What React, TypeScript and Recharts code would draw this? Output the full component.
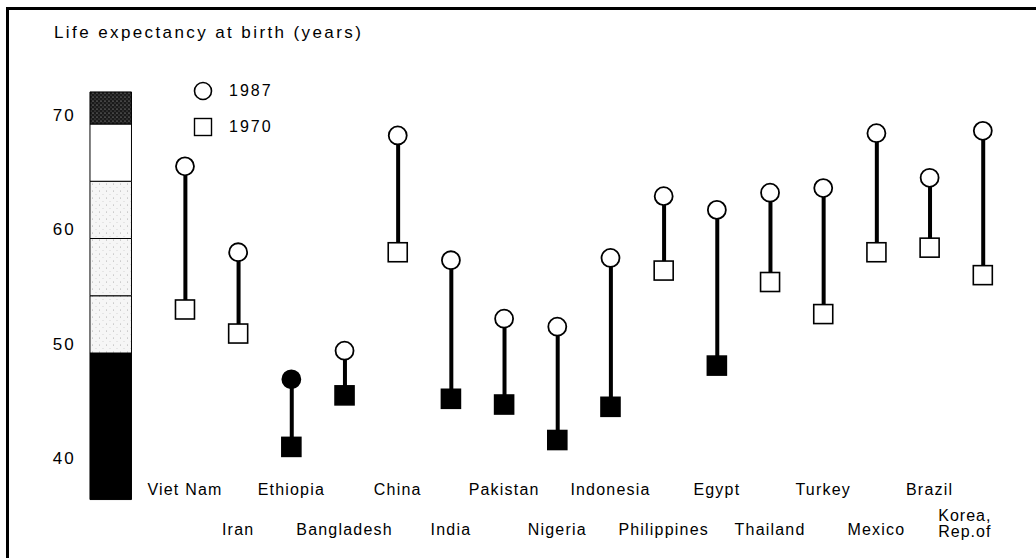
import { ComposedChart, Bar, Scatter, XAxis, YAxis, ReferenceArea, Legend } from 'recharts'

const W = 1036
const H = 558
const FONT = '"Liberation Sans", Arial, sans-serif'

const countries = [
  'Viet Nam', 'Iran', 'Ethiopia', 'Bangladesh', 'China', 'India', 'Pakistan', 'Nigeria',
  'Indonesia', 'Philippines', 'Egypt', 'Thailand', 'Turkey', 'Mexico', 'Brazil', 'Korea, Rep.of',
]
const life1987 = [66.3, 58.8, 47.7, 50.2, 69.0, 58.1, 53.0, 52.3, 58.3, 63.7, 62.5, 64.0, 64.4, 69.2, 65.3, 69.4]
const life1970 = [53.8, 51.7, 41.8, 46.3, 58.8, 46.0, 45.5, 42.4, 45.3, 57.2, 48.9, 56.2, 53.4, 58.8, 59.2, 56.8]
const yTicks = [40, 50, 60, 70]
const legendOrder = ['1987', '1970']
// shaded scale bar on the left: band edges in years
const scaleBands = [37.2, 50, 55, 60, 65, 70, 72.8]
const bandFills = ['#000', 'url(#stipLight)', 'url(#stipLight)', 'url(#stipLight)', '#fff', 'url(#stipDark)']

const data = countries.map((name, i) => ({
  idx: i,
  name,
  v1970: life1970[i],
  v1987: life1987[i],
  stem: [life1970[i], life1987[i]],
}))

const markFill = (v: number) => (v < 50 ? '#000' : '#fff')

function CircleMark(props: any) {
  const { cx, cy, payload } = props
  return <circle cx={cx} cy={cy} r={9} fill={markFill(payload.v1987)} stroke="#000" strokeWidth={1.8} />
}

function SquareMark(props: any) {
  const { cx, cy, payload } = props
  return <rect x={cx - 9.5} y={cy - 9.5} width={19} height={19} fill={markFill(payload.v1970)} stroke="#000" strokeWidth={1.6} />
}

function CountryTick(props: any) {
  const { x, y, payload } = props
  const i = payload.value
  const name = countries[i]
  const row = i % 2
  if (name.includes(', ')) {
    const [a, b] = name.split(', ')
    return (
      <text x={x - 18} y={y} textAnchor="middle" fontSize={16} letterSpacing={1} fill="#000" fontFamily={FONT}>
        <tspan x={x - 18} dy={8}>{a + ','}</tspan>
        <tspan x={x - 18} dy={16}>{b}</tspan>
      </text>
    )
  }
  return (
    <text x={x} y={y + (row === 0 ? -18 : 22)} textAnchor="middle" fontSize={16} letterSpacing={1.2} fill="#000" fontFamily={FONT}>
      {name}
    </text>
  )
}

function ValueTick(props: any) {
  const { x, y, payload } = props
  return (
    <text x={x} y={y - 9.5} dy="0.36em" textAnchor="end" fontSize={17} letterSpacing={2} fill="#000" fontFamily={FONT}>
      {payload.value}
    </text>
  )
}

function LegendBox(props: any) {
  const items = (props.payload || []).filter((it: any) => legendOrder.includes(it.value))
  items.sort((a: any, b: any) => legendOrder.indexOf(a.value) - legendOrder.indexOf(b.value))
  return (
    <div style={{ fontFamily: FONT, fontSize: 16, letterSpacing: 2 }}>
      {items.map((it: any) => (
        <div key={it.value} style={{ display: 'flex', alignItems: 'center', height: 36 }}>
          <svg width={22} height={22} style={{ marginRight: 15 }}>
            {it.value === '1987'
              ? <circle cx={11} cy={11} r={8.5} fill="#fff" stroke="#000" strokeWidth={1.6} />
              : <rect x={2.5} y={2.5} width={17} height={17} fill="#fff" stroke="#000" strokeWidth={1.4} />}
          </svg>
          <span>{it.value}</span>
        </div>
      ))}
    </div>
  )
}

export default function App() {
  return (
    <div style={{ position: 'relative', width: W, height: H, overflow: 'hidden', background: '#fff', fontFamily: FONT }}>
      <style>{'body{margin:0}'}</style>
      <div style={{ position: 'absolute', left: 6, top: 7, width: W, height: H, borderLeft: '3px solid #000', borderTop: '3px solid #000' }} />
      <div style={{ position: 'absolute', left: 54, top: 23, fontSize: 17, letterSpacing: 2.4, whiteSpace: 'nowrap' }}>
        Life expectancy at birth (years)
      </div>
      <ComposedChart width={W} height={H} data={data} margin={{ top: 78.2, right: 0, bottom: 0, left: 0 }}>
        <defs>
          <pattern id="stipLight" width={7} height={7} patternUnits="userSpaceOnUse">
            <rect width={7} height={7} fill="#f6f6f6" />
            <circle cx={1.5} cy={2} r={0.5} fill="#999" />
            <circle cx={5} cy={5.5} r={0.4} fill="#aaa" />
          </pattern>
          <pattern id="stipDark" width={4} height={4} patternUnits="userSpaceOnUse">
            <rect width={4} height={4} fill="#1a1a1a" />
            <circle cx={1} cy={1} r={0.6} fill="#bbb" />
            <circle cx={3} cy={3} r={0.5} fill="#888" />
          </pattern>
        </defs>
        <XAxis
          type="number"
          dataKey="idx"
          domain={[-2, 16]}
          ticks={countries.map((_, i) => i)}
          interval={0}
          tick={<CountryTick />}
          tickLine={false}
          axisLine={false}
          tickSize={0}
          tickMargin={0}
          height={44.7}
          allowDataOverflow
        />
        <YAxis
          type="number"
          domain={[36, 74]}
          ticks={yTicks}
          tick={<ValueTick />}
          tickLine={false}
          axisLine={false}
          tickSize={0}
          tickMargin={3}
          width={78.6}
          allowDataOverflow
        />
        {bandFills.map((fill, i) => (
          <ReferenceArea
            key={i}
            x1={-1.786}
            x2={-1.006}
            y1={scaleBands[i]}
            y2={scaleBands[i + 1]}
            fill={fill}
            fillOpacity={1}
            stroke="#000"
            strokeWidth={1}
          />
        ))}
        <Legend
          verticalAlign="middle"
          align="center"
          layout="horizontal"
          content={<LegendBox />}
          wrapperStyle={{ left: 192, top: 73, width: 130 }}
        />
        <Bar dataKey="stem" fill="#000" barSize={4} isAnimationActive={false} legendType="none" />
        <Scatter name="1970" dataKey="v1970" shape={<SquareMark />} isAnimationActive={false} />
        <Scatter name="1987" dataKey="v1987" shape={<CircleMark />} isAnimationActive={false} />
      </ComposedChart>
    </div>
  )
}
